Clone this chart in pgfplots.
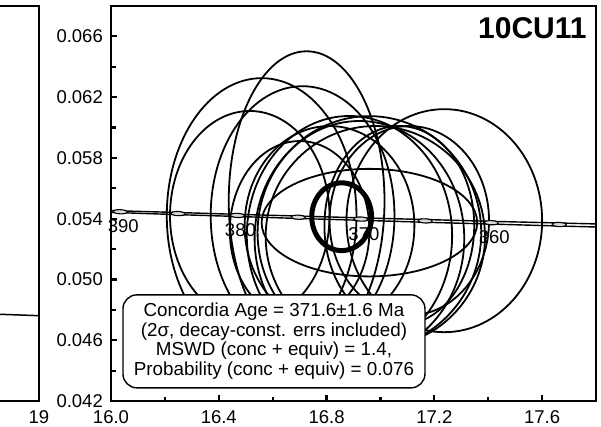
\documentclass[border=0pt]{standalone}
\usepackage{fontspec}
\setmainfont{Liberation Sans}
\usepackage{pgfplots}
\pgfplotsset{compat=1.18}

\pgfdeclareplotmark{dataell}{%
  \pgfpathellipse{\pgfpointorigin}{\pgfpoint{\rxpt pt}{0pt}}{\pgfpoint{0pt}{\rypt pt}}%
  \pgfusepathqstroke}
\pgfdeclareplotmark{agemark}{%
  \pgfpathellipse{\pgfpointorigin}{\pgfpoint{7pt}{-0.25pt}}{\pgfpoint{0pt}{2.1pt}}%
  \pgfusepathqfillstroke}

\pgfplotstableread{
x y rx ry
16.726 0.05518 0.289 0.00984
16.559 0.05420 0.352 0.00905
16.711 0.05420 0.341 0.00852
16.515 0.05420 0.296 0.00689
17.237 0.05387 0.363 0.00734
16.959 0.05374 0.400 0.00354
16.885 0.05289 0.381 0.00787
16.922 0.05269 0.389 0.00774
16.959 0.05308 0.415 0.00767
16.981 0.05282 0.407 0.00728
17.070 0.05354 0.278 0.00656
17.107 0.05387 0.296 0.00623
16.811 0.05354 0.315 0.00656
16.700 0.05321 0.259 0.00590
}\ellipses

\pgfplotstableread{
x y rx ry
16.856 0.05413 0.111 0.00223
}\concage

\pgfplotstableread{
x y up lo
17.92286 0.053498 0.053598 0.053398
17.66350 0.053617 0.053717 0.053517
17.41140 0.053736 0.053826 0.053646
17.16612 0.053855 0.053945 0.053765
16.92753 0.053975 0.054055 0.053895
16.69529 0.054095 0.054175 0.054015
16.46916 0.054216 0.054286 0.054146
16.24891 0.054336 0.054406 0.054266
16.03431 0.054457 0.054517 0.054397
15.82515 0.054578 0.054638 0.054518
}\concordia

\begin{document}
\begin{tikzpicture}
\path[use as bounding box] (0pt,0pt) rectangle (601pt,426pt);
\clip (0pt,0pt) rectangle (601pt,426pt);

\pgfplotsset{
  mystyle/.style={
    scale only axis,
    height=395pt,
    axis line style={line width=2.6pt, black},
    major tick style={line width=2.2pt, black},
    minor tick style={line width=2.2pt, black},
    major tick length=6pt,
    minor tick length=4.5pt,
    tick align=inside,
    tick pos=left,
    /pgf/number format/assume math mode=true,
    ticklabel style={font=\fontsize{18.5}{20}\selectfont, inner sep=0pt},
    xticklabel shift=9pt,
    yticklabel shift=8pt,
    scaled x ticks=false,
    scaled y ticks=false,
  },
  ellstyle/.style={
    scatter, only marks, mark=dataell,
    scatter/use mapped color={draw=black},
    visualization depends on={269.444*\thisrow{rx} \as \rxpt},
    visualization depends on={15192.3*\thisrow{ry} \as \rypt},
  }
}

\begin{axis}[mystyle, width=200pt, at={(39pt,25pt)}, anchor=south east,
  xmin=18, xmax=19, ymin=0, ymax=1, xtick={19}, xticklabels={19}, ytick=\empty]
\addplot[black, line width=1.5pt] coordinates {(18,0.234) (19,0.216)};
\end{axis}

\begin{axis}[mystyle, width=485pt, at={(111pt,25pt)}, anchor=south west,
  xmin=16, xmax=17.8, ymin=0.042, ymax=0.068,
  xtick={16,16.4,16.8,17.2,17.6},
  minor xtick={16.2,16.6,17.0,17.4},
  ytick={0.042,0.046,0.050,0.054,0.058,0.062,0.066},
  minor ytick={0.044,0.048,0.052,0.056,0.060,0.064},
  xticklabel style={/pgf/number format/.cd, fixed, fixed zerofill, precision=1},
  yticklabel style={/pgf/number format/.cd, fixed, fixed zerofill, precision=3},
  clip mode=individual]

\addplot[ellstyle, line width=1.8pt] table[x=x, y=y] {\ellipses};

\addplot[black, line width=1.4pt] table[x=x, y=up] {\concordia};
\addplot[black, line width=1.4pt] table[x=x, y=lo] {\concordia};

\addplot[only marks, mark=agemark, mark options={draw=black, fill=gray!30, line width=1.1pt}]
  table[x=x, y=y] {
x y
17.66350 0.053617
17.41140 0.053736
17.16612 0.053855
16.92753 0.053975
16.69529 0.054095
16.46916 0.054216
16.24891 0.054336
16.03431 0.054457
};

\addplot[draw=none, mark=none, nodes near coords, point meta=explicit symbolic,
  nodes near coords align=below,
  every node near coord/.append style={inner sep=0pt, xshift=3pt, yshift=-8pt,
    font=\fontsize{18.5}{20}\selectfont, black}]
  table[x=x, y=y, meta=lab] {
x y lab
17.41140 0.053736 360
16.92753 0.053975 370
16.46916 0.054216 380
16.03431 0.054457 390
};

\addplot[ellstyle, line width=5pt] table[x=x, y=y] {\concage};

\node[draw=black, line width=1.4pt, fill=white, rounded corners=14pt, align=center,
  minimum width=302pt, minimum height=93pt, inner sep=2pt,
  font=\fontsize{18.8}{19.5}\selectfont] at (rel axis cs:0.336,0.151)
  {Concordia Age = 371.6±1.6 Ma\\(2σ, decay-const. errs included)\\MSWD (conc + equiv) = 1.4,\\Probability (conc + equiv) = 0.076};

\node[anchor=north east, inner sep=0pt, font=\fontsize{30}{30}\bfseries\selectfont]
  at (rel axis cs:0.981,0.972) {10CU11};
\end{axis}
\end{tikzpicture}
\end{document}
